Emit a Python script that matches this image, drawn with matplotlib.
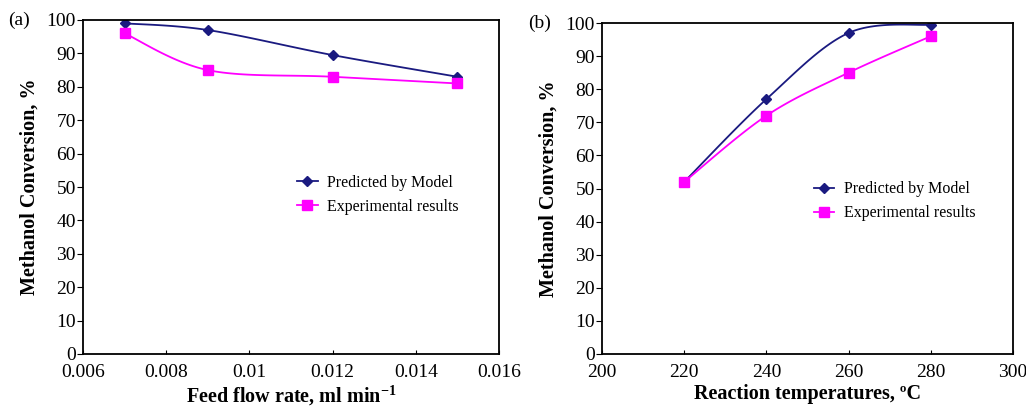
import numpy as np
import matplotlib
matplotlib.use("Agg")
from matplotlib import pyplot as plt

plt.rcParams['font.family'] = ['Liberation Serif', 'DejaVu Serif']
plt.rcParams['mathtext.fontset'] = 'custom'
plt.rcParams['mathtext.rm'] = 'Liberation Serif'
plt.rcParams['mathtext.bf'] = 'Liberation Serif:bold'

# panel (a): feed flow rate
flow = [0.007, 0.009, 0.012, 0.015]
flow_pred = [99.0, 97.0, 89.5, 83.0]
flow_exp = [96.0, 85.0, 83.0, 81.0]

# panel (b): reaction temperature
temp = [220, 240, 260, 280]
temp_pred = [52.0, 77.0, 97.0, 99.5]
temp_exp = [52.0, 72.0, 85.0, 96.0]

navy = '#1a1a80'
pink = '#ff00ff'


def smooth(x, y, n=30):
    # excel-like smoothed line (catmull-rom through the points)
    x = np.asarray(x, float)
    y = np.asarray(y, float)
    px = np.concatenate([[x[0]], x, [x[-1]]])
    py = np.concatenate([[y[0]], y, [y[-1]]])
    xs, ys = [], []
    t = np.linspace(0, 1, n)
    for i in range(1, len(px) - 2):
        for p, out in ((px, xs), (py, ys)):
            p0, p1, p2, p3 = p[i - 1], p[i], p[i + 1], p[i + 2]
            m1 = (p2 - p0) / 6.0
            m2 = (p3 - p1) / 6.0
            b = ((1 - t) ** 3 * p1 + 3 * (1 - t) ** 2 * t * (p1 + m1)
                 + 3 * (1 - t) * t ** 2 * (p2 - m2) + t ** 3 * p2)
            out.extend(b)
    return xs, ys


fig = plt.figure(figsize=(10.26, 4.08), dpi=100)
ax1 = fig.add_axes([83 / 1026, 1 - 354 / 408, 416 / 1026, 334 / 408])
ax2 = fig.add_axes([602 / 1026, 1 - 354 / 408, 411 / 1026, 331 / 408])


def draw(ax, x, yp, ye, xlim, xticks, xlabels, xlabel, tag, leg_pos):
    sx, sy = smooth(x, yp)
    ax.plot(sx, sy, color=navy, lw=1.3)
    ax.plot(x, yp, 'D', color=navy, ms=5)
    sx, sy = smooth(x, ye)
    ax.plot(sx, sy, color=pink, lw=1.3)
    ax.plot(x, ye, 's', color=pink, ms=6.5)
    ax.set_xlim(*xlim)
    ax.set_ylim(0, 100)
    ax.set_yticks(range(0, 101, 10))
    ax.set_xticks(xticks)
    ax.set_xticklabels(xlabels)
    ax.tick_params(axis='y', direction='out', length=4, labelsize=14, pad=1)
    ax.tick_params(axis='x', direction='in', length=3, labelsize=14, pad=7)
    for s in ax.spines.values():
        s.set_linewidth(1.3)
    ax.set_xlabel(xlabel, fontsize=14.5, fontweight='bold', labelpad=2)
    ax.set_ylabel('Methanol Conversion, %', fontsize=14.5, fontweight='bold', labelpad=5)
    ax.text(-0.18, 1.0, tag, transform=ax.transAxes, fontsize=14, va='center', ha='left')
    # legend entries with line through marker
    h1 = plt.Line2D([], [], color=navy, lw=1.3, marker='D', ms=5)
    h2 = plt.Line2D([], [], color=pink, lw=1.3, marker='s', ms=6.5)
    ax.legend([h1, h2], ['Predicted by Model', 'Experimental results'],
              loc='upper left', bbox_to_anchor=leg_pos, frameon=False,
              fontsize=11.5, handlelength=1.3, handletextpad=0.6, labelspacing=0.5)


draw(ax1, flow, flow_pred, flow_exp, (0.006, 0.016),
     [0.006, 0.008, 0.01, 0.012, 0.014, 0.016],
     ['0.006', '0.008', '0.01', '0.012', '0.014', '0.016'],
     'Feed flow rate, ml min$^{\\mathbf{-1}}$', '(a)', (0.48, 0.58))
draw(ax2, temp, temp_pred, temp_exp, (200, 300),
     [200, 220, 240, 260, 280, 300],
     ['200', '220', '240', '260', '280', '300'],
     'Reaction temperatures, ºC', '(b)', (0.48, 0.565))

fig.savefig('out.png', dpi=100)
